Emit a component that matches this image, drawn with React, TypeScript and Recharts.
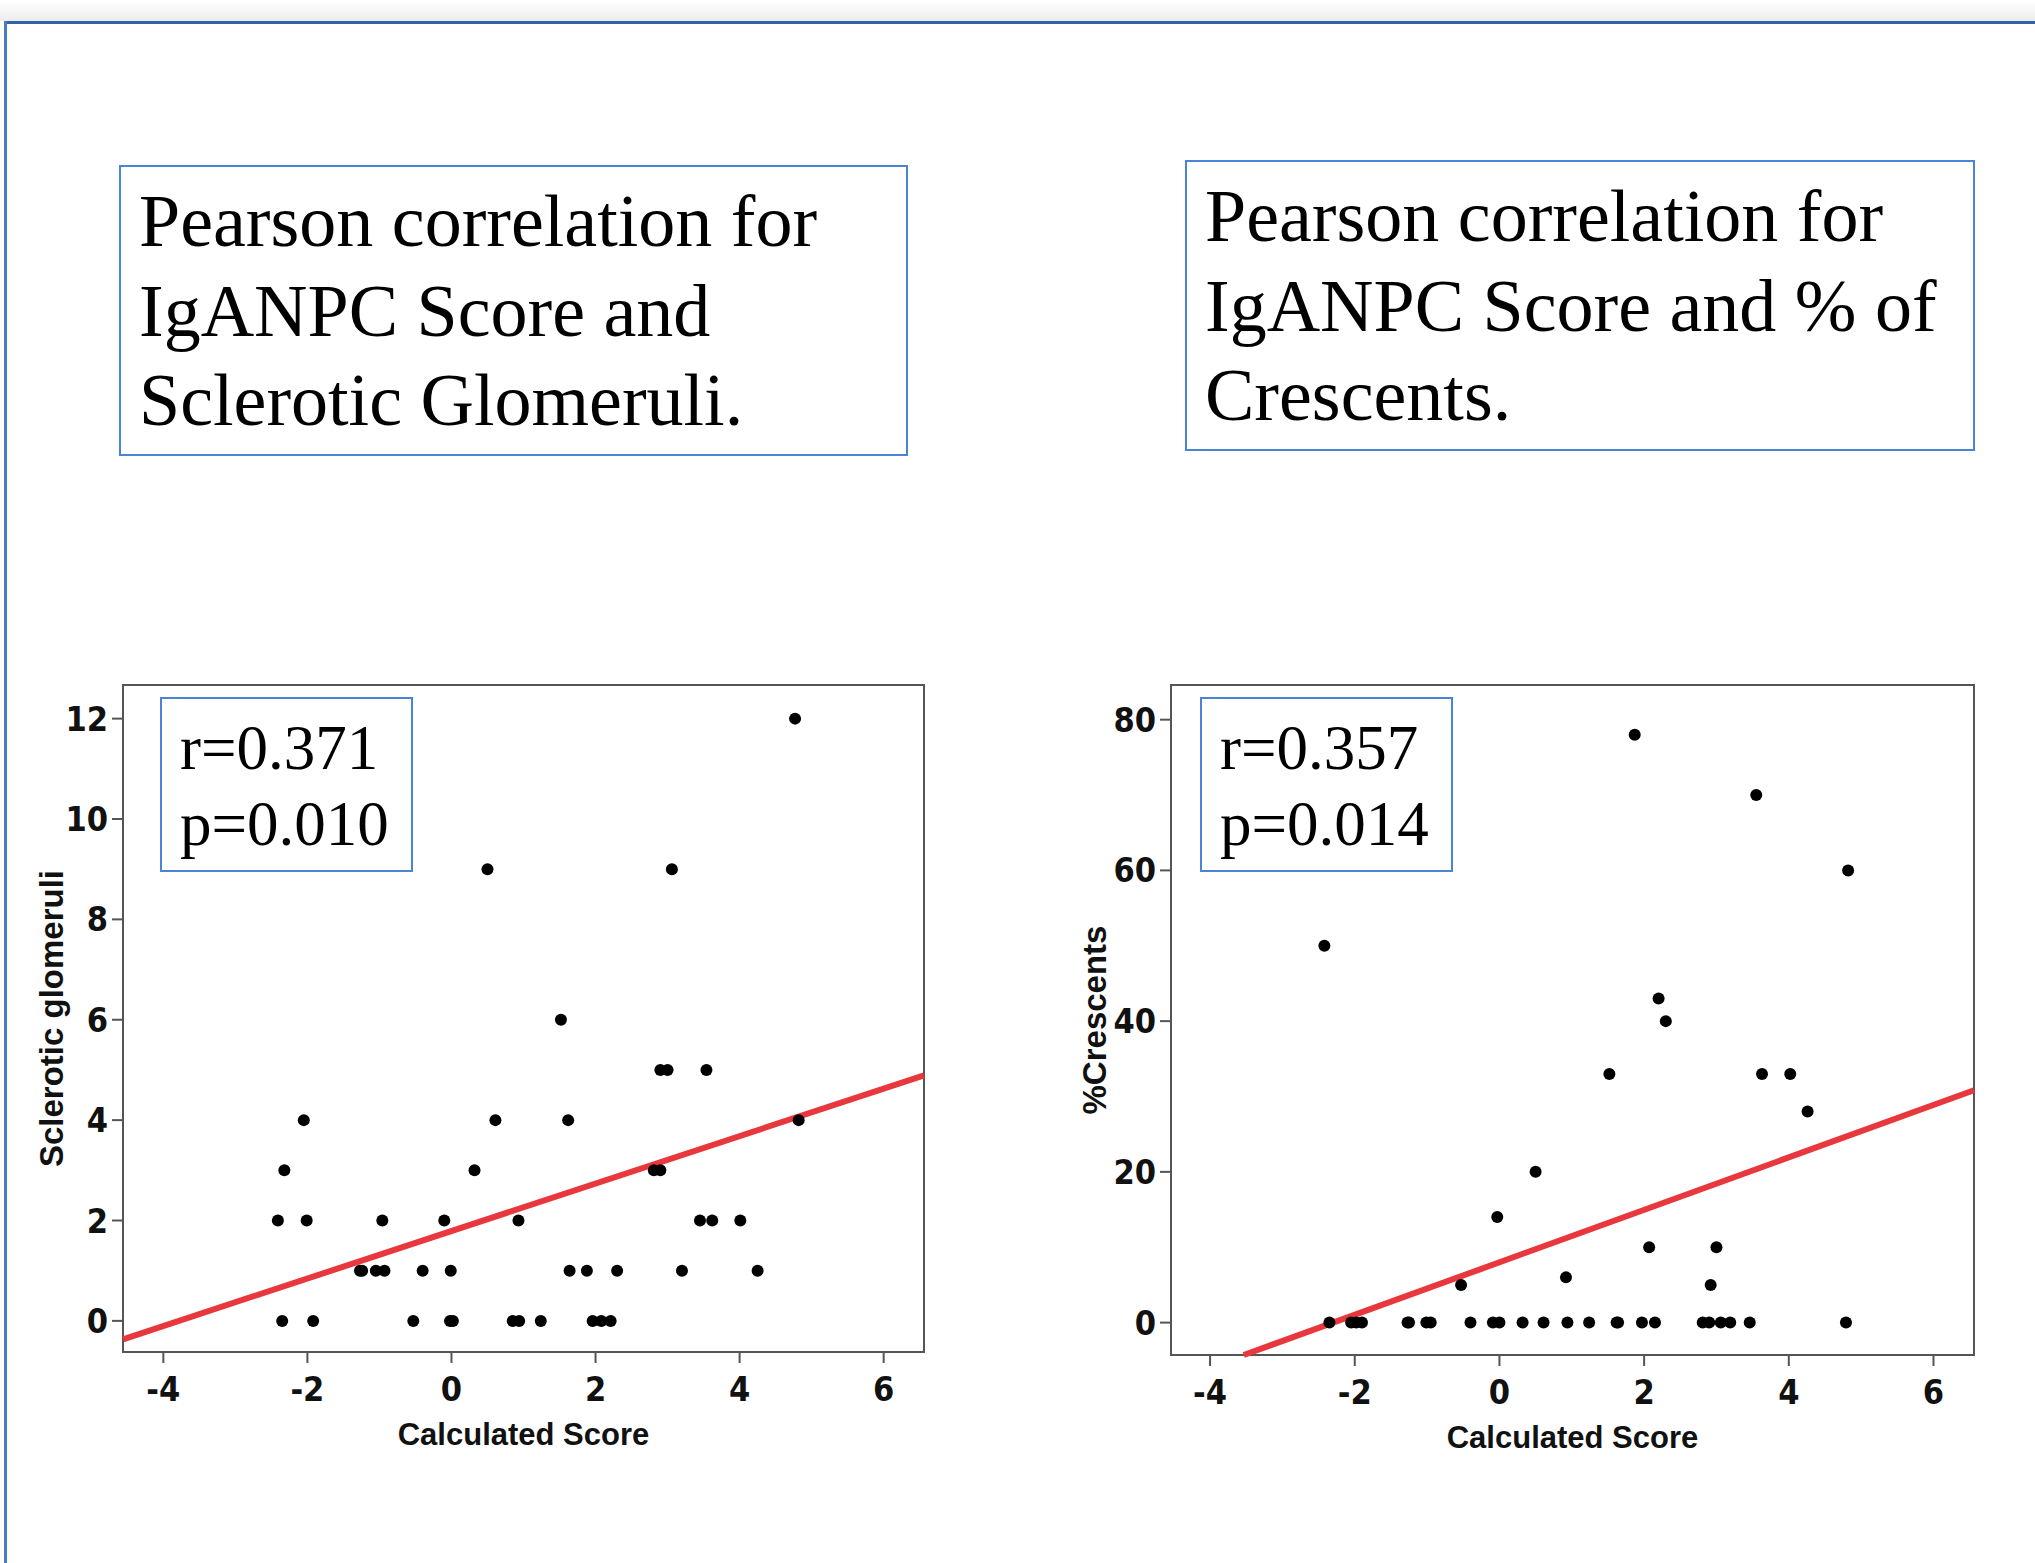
import React from "react";
import {
  ScatterChart,
  Scatter,
  XAxis,
  YAxis,
  ReferenceLine,
  ReferenceArea,
  Label,
} from "recharts";

// shared x axis (calculated IgANPC score)
const scoreTicks = [-4, -2, 0, 2, 4, 6];

// left panel: sclerotic glomeruli
const scleroScores = [
  4.77, 0.5, 3.06, 1.52, 2.9, 3.0, 3.54, -2.05, 0.61, 1.62, 4.82, -2.32, 0.32,
  2.81, 2.9, -2.41, -2.01, -0.96, -0.1, 0.93, 3.45, 3.62, 4.01, -1.27, -1.24,
  -1.05, -0.93, -0.4, -0.01, 1.64, 1.88, 2.3, 3.2, 4.25, -2.35, -1.92, -0.53,
  -0.02, 0.02, 0.85, 0.94, 1.24, 1.96, 2.08, 2.21,
];
const scleroCounts = [
  12, 9, 9, 6, 5, 5, 5, 4, 4, 4, 4, 3, 3, 3, 3, 2, 2, 2, 2, 2, 2, 2, 2, 1, 1,
  1, 1, 1, 1, 1, 1, 1, 1, 1, 0, 0, 0, 0, 0, 0, 0, 0, 0, 0, 0,
];
const scleroTicks = [0, 2, 4, 6, 8, 10, 12];
const scleroFit = { intercept: 1.79, slope: 0.473 };

// right panel: % crescents
const crescentScores = [
  1.87, 3.55, 4.82, -2.42, 2.2, 2.3, 1.52, 3.63, 4.02, 4.26, 0.5, -0.03, 2.07,
  3.0, 0.92, -0.53, 2.92, -2.35, -2.05, -1.98, -1.9, -1.27, -1.25, -1.01, -0.95,
  -0.4, -0.09, 0.0, 0.32, 0.61, 0.94, 1.24, 1.62, 1.64, 1.97, 2.15, 2.81, 2.9,
  3.06, 3.19, 3.46, 4.79,
];
const crescentPcts = [
  78, 70, 60, 50, 43, 40, 33, 33, 33, 28, 20, 14, 10, 10, 6, 5, 5, 0, 0, 0, 0,
  0, 0, 0, 0, 0, 0, 0, 0, 0, 0, 0, 0, 0, 0, 0, 0, 0, 0, 0, 0, 0,
];
const crescentTicks = [0, 20, 40, 60, 80];
const crescentFit = { intercept: 8.0, slope: 3.48 };

const tickFont = "'Liberation Sans Narrow', 'DejaVu Sans Condensed', Arial, sans-serif";
const titleFont = "'Liberation Sans', Arial, sans-serif";
const serif = "'Liberation Serif', 'Times New Roman', serif";
const frameColor = "#555";
const boxBlue = "#4a84d4";

function XTick(props: any) {
  const { x, y, payload } = props;
  return (
    <text x={x} y={y} dy={34} textAnchor="middle" fontFamily={tickFont} fontWeight="bold" fontSize={34} fill="#111">
      {payload.value}
    </text>
  );
}

function YTick(props: any) {
  const { x, y, payload } = props;
  return (
    <text x={x} y={y} dy={12} textAnchor="end" fontFamily={tickFont} fontWeight="bold" fontSize={34} fill="#111">
      {payload.value}
    </text>
  );
}

const dot = (p: any) => <circle cx={p.cx} cy={p.cy} r={6} fill="#000" />;

type PanelProps = {
  left: number;
  scores: number[];
  values: number[];
  yTicks: number[];
  xDomain: [number, number];
  yDomain: [number, number];
  fit: { intercept: number; slope: number };
  yLabel: string;
  yAxisWidth: number;
  xAxisHeight: number;
  yLabelX: number;
};

function Panel(p: PanelProps) {
  const data = p.scores.map((s, i) => ({ score: s, value: p.values[i] }));
  const [xMin, xMax] = p.xDomain;
  const [yMin, yMax] = p.yDomain;
  // fitted line, clipped to the plot area
  let x1 = xMin;
  let y1 = p.fit.intercept + p.fit.slope * x1;
  if (y1 < yMin) {
    y1 = yMin;
    x1 = (yMin - p.fit.intercept) / p.fit.slope;
  }
  const x2 = xMax;
  const y2 = p.fit.intercept + p.fit.slope * x2;

  return (
    <div style={{ position: "absolute", left: p.left, top: 640, width: 960, height: 840 }}>
      <ScatterChart width={960} height={840} margin={{ top: 45, right: 36, bottom: 0, left: 0 }}>
        <XAxis
          type="number"
          dataKey="score"
          domain={p.xDomain}
          ticks={scoreTicks}
          allowDataOverflow
          height={p.xAxisHeight}
          axisLine={false}
          tickLine={{ stroke: frameColor, strokeWidth: 2 }}
          tickSize={11}
          tickMargin={4}
          tick={<XTick />}
        >
          <Label
            content={(lp: any) => {
              const vb = lp.viewBox;
              return (
                <text x={vb.x + vb.width / 2} y={vb.y + 93} textAnchor="middle" fontFamily={titleFont} fontWeight="bold" fontSize={31} fill="#111">
                  Calculated Score
                </text>
              );
            }}
          />
        </XAxis>
        <YAxis
          type="number"
          dataKey="value"
          domain={p.yDomain}
          ticks={p.yTicks}
          allowDataOverflow
          width={p.yAxisWidth}
          axisLine={false}
          tickLine={{ stroke: frameColor, strokeWidth: 2 }}
          tickSize={11}
          tickMargin={4}
          tick={<YTick />}
        >
          <Label
            content={(lp: any) => {
              const vb = lp.viewBox;
              const cx = vb.x + p.yLabelX;
              const cy = vb.y + vb.height / 2;
              return (
                <text x={cx} y={cy} dy={11} transform={`rotate(-90, ${cx}, ${cy})`} textAnchor="middle" fontFamily={titleFont} fontWeight="bold" fontSize={33} fill="#111">
                  {p.yLabel}
                </text>
              );
            }}
          />
        </YAxis>
        <ReferenceArea x1={xMin} x2={xMax} y1={yMin} y2={yMax} fill="none" stroke={frameColor} strokeWidth={2} ifOverflow="visible" />
        <Scatter data={data} shape={dot} isAnimationActive={false} />
        <ReferenceLine
          segment={[{ x: x1, y: y1 }, { x: x2, y: y2 }]}
          stroke="#e8383d"
          strokeWidth={6}
          ifOverflow="visible"
        />
      </ScatterChart>
    </div>
  );
}

function TitleBox({ left, top, width, height, textTop, lines }: any) {
  return (
    <>
      <div style={{ position: "absolute", left, top, width, height, border: `2px solid ${boxBlue}`, boxSizing: "border-box", background: "#fff" }} />
      <div style={{ position: "absolute", left: left + 20, top: textTop, fontFamily: serif, fontSize: 74, lineHeight: "89.5px", color: "#000", whiteSpace: "nowrap" }}>
        {lines.map((l: string) => (
          <div key={l}>{l}</div>
        ))}
      </div>
    </>
  );
}

function StatBox({ left, lines }: any) {
  return (
    <>
      <div style={{ position: "absolute", left, top: 697, width: 253, height: 175, border: `2px solid ${boxBlue}`, boxSizing: "border-box", background: "#fff" }} />
      <div style={{ position: "absolute", left: left + 20, top: 710, fontFamily: serif, fontSize: 63, lineHeight: "76px", color: "#000", whiteSpace: "nowrap" }}>
        {lines.map((l: string) => (
          <div key={l}>{l}</div>
        ))}
      </div>
    </>
  );
}

export default function App() {
  return (
    <div style={{ position: "absolute", left: 0, top: 0, width: 2035, height: 1563, background: "#fff", overflow: "hidden" }}>
      {/* slide frame */}
      <div style={{ position: "absolute", left: 0, top: 0, width: 2035, height: 21, background: "linear-gradient(#fff, #ececec)" }} />
      <div style={{ position: "absolute", left: 4, top: 21, width: 2031, height: 3, background: "#2f64a8" }} />
      <div style={{ position: "absolute", left: 4, top: 21, width: 3, height: 1542, background: "#4a7cc0" }} />

      <TitleBox
        left={119}
        top={165}
        width={789}
        height={291}
        textTop={177}
        lines={["Pearson correlation for", "IgANPC Score and", "Sclerotic Glomeruli."]}
      />
      <TitleBox
        left={1185}
        top={160}
        width={790}
        height={291}
        textTop={172}
        lines={["Pearson correlation for", "IgANPC Score and % of", "Crescents."]}
      />

      <Panel
        left={0}
        scores={scleroScores}
        values={scleroCounts}
        yTicks={scleroTicks}
        xDomain={[-4.56, 6.56]}
        yDomain={[-0.62, 12.67]}
        fit={scleroFit}
        yLabel="Sclerotic glomeruli"
        yAxisWidth={123}
        xAxisHeight={128}
        yLabelX={52}
      />
      <Panel
        left={1050}
        scores={crescentScores}
        values={crescentPcts}
        yTicks={crescentTicks}
        xDomain={[-4.54, 6.56]}
        yDomain={[-4.3, 84.6]}
        fit={crescentFit}
        yLabel="%Crescents"
        yAxisWidth={121}
        xAxisHeight={125}
        yLabelX={45}
      />

      <StatBox left={160} lines={["r=0.371", "p=0.010"]} />
      <StatBox left={1200} lines={["r=0.357", "p=0.014"]} />
    </div>
  );
}
